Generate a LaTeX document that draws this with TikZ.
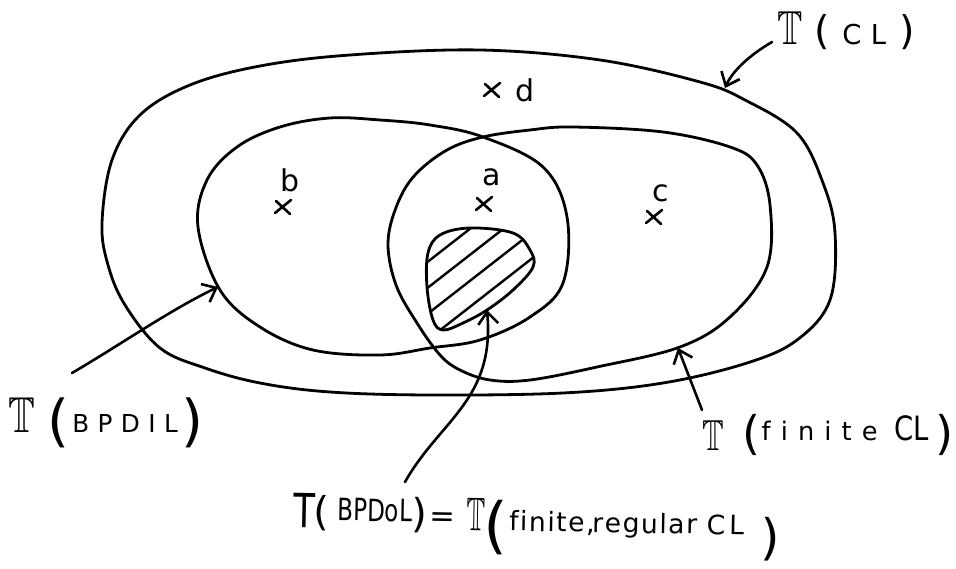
\documentclass[tikz,border=0pt]{standalone}
\usepackage{amssymb}
\usepackage{graphicx}
\usepackage{fontspec}
\setmainfont{DejaVu Sans}[Ligatures=NoCommon]
\usetikzlibrary{arrows.meta}
\makeatletter
\newcommand\spaced[2]{\def\sp@amt{#1}\sp@loop#2\@nil}
\def\sp@loop#1{\ifx#1\@nil\else#1\hspace{\sp@amt}\expandafter\sp@loop\fi}
\makeatother
\newcommand\BT[2]{\scalebox{#2}[1]{\fontsize{#1}{#1}\selectfont$\mathbb{T}$}}
\newcommand\PT[2]{\scalebox{#2}[1]{\fontsize{#1}{#1}\selectfont T}}
\newcommand\LP[2]{\raisebox{#2}{\fontsize{#1}{#1}\selectfont(}}
\newcommand\RP[2]{\raisebox{#2}{\fontsize{#1}{#1}\selectfont)}}
\newcommand\TX[4]{\scalebox{#3}[1]{\fontsize{#1}{#1}\selectfont\spaced{#2}{#4}}}
\newcommand\xmk[2]{\draw[line width=2.6pt] ({#1-8},{#2+6})--({#1+8},{#2-7}) ({#1-7},{#2-6})--({#1+7},{#2+7});}
\begin{document}
\begin{tikzpicture}[x=1pt,y=-1pt, line join=round, line cap=round,
  setline/.style={draw=black, line width=2.8pt},
  ptr/.style={-{Straight Barb[length=12pt,width=20pt]}, line width=2.6pt},
  lbl/.style={inner sep=0pt, anchor=base west},
  pt/.style={inner sep=0pt, font=\fontsize{30}{30}\selectfont}]
\path[use as bounding box] (0,0) rectangle (956,569);
\draw[setline] plot[smooth cycle, tension=0.6] coordinates {(102,223) (112,160) (140,115) (190,85) (260,66) (350,55) (480,50) (600,60) (700,82) (745,100) (797,133) (823,183) (835,233) (830,300) (797,340) (747,363) (663,383) (563,393) (430,395) (330,392) (260,383) (205,368) (160,348) (125,305) (108,265)};
\draw[setline] plot[smooth cycle, tension=0.6] coordinates {(198,227) (207,180) (237,147) (280,127) (330,118) (380,120) (430,125) (483,137) (543,167) (567,217) (563,283) (530,317) (480,340) (430,348) (380,355) (313,350) (260,327) (220,290)};
\draw[setline] plot[smooth cycle, tension=0.6] coordinates {(388,243) (397,205) (415,175) (447,150) (483,137) (530,130) (573,127) (663,132) (730,147) (757,165) (770,205) (767,267) (730,317) (680,347) (597,367) (530,380) (490,380) (460,370) (440,355) (417,323) (396,285)};
\begin{scope}
\clip plot[smooth cycle, tension=0.6] coordinates {(470,228) (513,233) (530,250) (533,267) (513,290) (487,310) (463,323) (443,330) (433,320) (427,287) (428,253) (440,235)};
\foreach \c in {221,247,273,299,325}
  \draw[line width=2.4pt] (400,{\c+0.78*80}) -- (560,{\c-0.78*80});
\end{scope}
\draw[setline] plot[smooth cycle, tension=0.6] coordinates {(470,228) (513,233) (530,250) (533,267) (513,290) (487,310) (463,323) (443,330) (433,320) (427,287) (428,253) (440,235)};
\xmk{283}{207}
\xmk{484}{204}
\xmk{654}{217}
\xmk{492}{90}
\node[pt] (lb) at (290,180) {b};
\node[pt] (la) at (492,177) {a};
\node[pt] (lc) at (661,193) {c};
\node[pt] (ld) at (525,90) {d};
\node[lbl] (tcl) at (777,45) {\resizebox{138pt}{!}{\BT{47}{0.8}\hspace{12pt}\LP{39}{0pt}\hspace{12pt}\TX{27}{9.4pt}{1}{CL}\hspace{4pt}\RP{39}{0pt}}};
\node[lbl] (tbpdil) at (8,432) {\resizebox{195pt}{!}{\BT{51}{0.8}\hspace{13pt}\LP{57}{-8.5pt}\hspace{2.6pt}\TX{25}{8.5pt}{1}{BPDIL}\hspace{-5pt}\RP{57}{-8.5pt}}};
\node[lbl] (tfin) at (702,450) {\resizebox{251pt}{!}{\BT{44}{0.75}\hspace{19pt}\LP{47}{1pt}\hspace{1pt}\raisebox{10pt}{\TX{26}{10.3pt}{1}{finite}\hspace{7pt}\TX{34}{0pt}{0.82}{CL}}\hspace{6pt}\RP{47}{1pt}}};
\node[lbl, rotate=-1] (tbpdol) at (293,527) {\resizebox{487pt}{!}{\PT{46}{0.75}\hspace{-1pt}\LP{39}{2pt}\hspace{8pt}\raisebox{7pt}{\TX{30}{0pt}{0.75}{BPDoL}}\RP{39}{2pt}\hspace{2pt}\raisebox{3pt}{\TX{30}{0pt}{1}{=}}\hspace{11pt}\BT{46}{0.6}\hspace{-1pt}\LP{60}{-15.5pt}\hspace{1pt}\TX{26}{1.5pt}{1}{finite,} \hspace{-7pt}\TX{26}{1.5pt}{1}{regular}\hspace{8pt}\TX{26}{3.7pt}{1}{CL}\hspace{13pt}\RP{48}{-19pt}}};
\coordinate (acl0) at (772,42);
\coordinate (acl1) at (725,88);
\coordinate (ab0) at (72,373);
\coordinate (ab1) at (218,287);
\coordinate (af0) at (702,410);
\coordinate (af1) at (678,348);
\coordinate (ao0) at (405,482);
\coordinate (ao1) at (487,310);
\draw[ptr] (acl0) .. controls (748,56) and (732,72) .. (acl1);
\draw[ptr] (ab0) .. controls (120,345) and (170,310) .. (ab1);
\draw[ptr] (af0) -- (af1);
\draw[ptr] (ao0) .. controls (440,420) and (495,400) .. (ao1);
\end{tikzpicture}
\end{document}
